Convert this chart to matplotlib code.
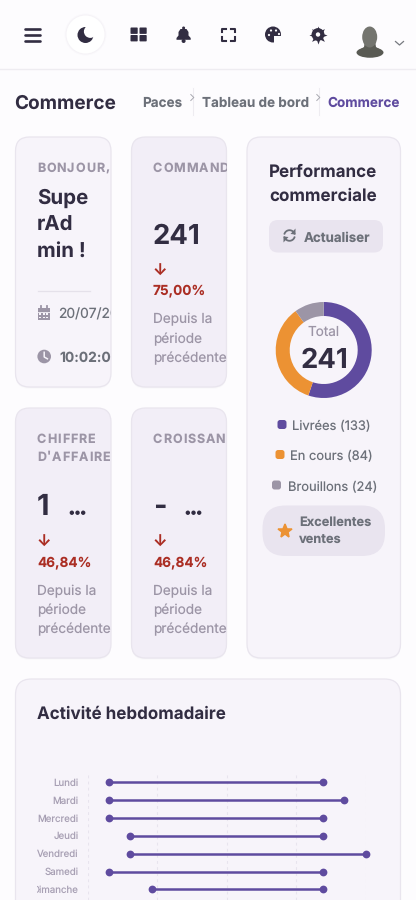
import numpy as np
import matplotlib
matplotlib.use('Agg')
import matplotlib.pyplot as plt
import matplotlib.patheffects as pe
from matplotlib.patches import FancyBboxPatch, Circle, Rectangle, Polygon, Ellipse
from matplotlib.lines import Line2D
from matplotlib.transforms import Bbox

# ---------- data ----------
status_labels = ['Livrées (133)', 'En cours (84)', 'Brouillons (24)']
status_values = [133, 84, 24]
days = ['Lundi', 'Mardi', 'Mercredi', 'Jeudi', 'Vendredi', 'Samedi', 'Dimanche']
day_start = [1, 1, 1, 2, 2, 1, 3]
day_end = [11, 12, 11, 11, 13, 11, 11]
grid_ticks = [0, 3.25, 6.5, 9.75, 13]

INK = '#322d42'
PURPLE = '#5f4b9f'
ORANGE = '#ec9233'
GREY = '#9c95a6'
TXT = '#6c7079'
RED = '#ab2e24'
BG = '#fdfcfe'
CARD1 = '#f7f4fa'
CARD2 = '#f2eef7'
EDGE = '#e9e5ee'
PILL = '#e9e4ef'

plt.rcParams['font.family'] = ['Inter', 'DejaVu Sans']
plt.rcParams['text.hinting'] = 'none'
W, H = 416, 900
fig = plt.figure(figsize=(W / 100, H / 100), dpi=100, facecolor=BG)
ax = fig.add_axes([0, 0, 1, 1])
ax.set_xlim(0, W)
ax.set_ylim(H, 0)
ax.axis('off')


def px(s):
    return s * 0.72


def clipbox(x0, x1):
    return Bbox([[x0, 0], [x1, H]])


def card(x0, y0, x1, y1, fc, r=14, z=1):
    for d, a in ((2, .025), (1, .04)):
        ax.add_patch(FancyBboxPatch((x0 + r, y0 + r + d), x1 - x0 - 2 * r, y1 - y0 - 2 * r,
                                    boxstyle=f'round,pad={r},rounding_size={r}', fc='#8a80a0',
                                    ec='none', alpha=a, zorder=z - .5))
    ax.add_patch(FancyBboxPatch((x0 + r, y0 + r), x1 - x0 - 2 * r, y1 - y0 - 2 * r,
                                boxstyle=f'round,pad={r},rounding_size={r}', fc=fc, ec=EDGE, lw=.9, zorder=z))
    return x1


def T(x, y, s, size, color=INK, weight='normal', ha='left', clip=None, va='center_baseline'):
    t = ax.text(x, y, s, fontsize=px(size), color=color, fontweight=weight, ha=ha, va=va, zorder=5)
    if clip is not None:
        t.set_clip_box(clipbox(0, clip))
        t.set_clip_on(True)
    return t


def spaced(x, y, s, size, color, clip, gap):
    """Letter-spaced capitals (CSS letter-spacing)."""
    r = fig.canvas.get_renderer()
    cx = x
    w2 = ax.text(0, 0, 'H', fontsize=px(size), fontweight='bold')
    base = w2.get_window_extent(r).width
    w2.remove()
    for ch in s:
        T(cx, y, ch, size, color, 'bold', clip=clip)
        m = ax.text(0, 0, ch + 'H', fontsize=px(size), fontweight='bold')
        cx += (m.get_window_extent(r).width - base) + gap
        m.remove()


# ---------- header ----------
ax.add_line(Line2D([0, W], [68.5, 68.5], color='#eeecf1', lw=1, zorder=1))
for y in (28.5, 34.5, 40.5):
    ax.add_line(Line2D([25, 39.5], [y, y], color=INK, lw=1.9, solid_capstyle='round'))
for d, a in ((2, .02), (1, .03)):
    ax.add_patch(Circle((85.5, 34.5), 19 + d, fc='#6a6080', ec='none', alpha=a, zorder=1))
ax.add_patch(Circle((85.5, 34.5), 19, fc='white', ec='none', zorder=1.2))
ax.add_patch(Circle((85.5, 35), 8, fc=INK, ec='none', zorder=2))
ax.add_patch(Circle((90.3, 31.5), 6.4, fc='white', ec='none', zorder=2.1))
for x0, y0 in ((130.5, 27.5), (139.5, 27.5), (130.5, 35), (139.5, 35)):
    ax.add_patch(FancyBboxPatch((x0, y0), 7.2, 6.4, boxstyle='round,pad=0,rounding_size=.8', fc=INK, ec='none'))
ax.add_patch(Polygon([(176.5, 38), (178.5, 35.5), (178.5, 32), (180.5, 29), (186.5, 29), (188.5, 32), (188.5, 35.5), (190.7, 38), (190.7, 39.8), (176.5, 39.8)], fc=INK, ec='none'))
ax.add_patch(Circle((183.6, 28), 1.5, fc=INK, ec='none'))
ax.add_patch(Circle((183.6, 41), 2, fc=INK, ec='none'))
for xs, ys in (([222, 222, 226], [32, 28.5, 28.5]), ([231, 235, 235], [28.5, 28.5, 32]),
               ([222, 222, 226], [37, 40.5, 40.5]), ([231, 235, 235], [40.5, 40.5, 37])):
    ax.add_line(Line2D(xs, ys, color=INK, lw=1.5))
ax.add_patch(Circle((273, 34.5), 8, fc=INK, ec='none'))
ax.add_patch(Polygon([(274, 36), (282, 36), (282, 44), (274, 44)], fc=BG, ec='none', zorder=2))
for c in ((269, 35), (271, 30.5), (276, 30.5), (279, 34)):
    ax.add_patch(Circle(c, 1.1, fc=BG, ec='none', zorder=3))
ax.add_patch(Circle((318, 34.5), 6.4, fc=INK, ec='none'))
ax.add_line(Line2D([318], [34.5], marker=(8, 1, 0), ms=13, color=INK, mew=0))
ax.add_patch(Circle((318, 34.5), 2.2, fc=BG, ec='none', zorder=3))
ax.add_patch(Ellipse((370, 52.5), 27, 10.5, fc='#595a53', ec='none'))
ax.add_patch(Polygon([(365, 41), (375, 41), (376, 47), (381, 50), (359, 50), (364, 47)], fc='#5c5d56', ec='none'))
ax.add_patch(Ellipse((369.7, 37), 15, 21, fc='#74756f', ec='none'))
ax.add_line(Line2D([395.5, 399.5, 403.5], [41.5, 45, 41.5], color='#777a80', lw=.9))

# ---------- breadcrumb ----------
T(14.5, 101.5, 'Commerce', 19, INK, 'bold')
T(142.5, 102, 'Paces', 13.5, TXT, 'bold')
T(201.5, 102, 'Tableau de bord', 13.5, TXT, 'bold')
T(327.5, 102, 'Commerce', 13.5, PURPLE, 'bold')
for x in (192.5, 318.5):
    ax.add_line(Line2D([x, x], [88, 115], color='#eeecf1', lw=.8))
    ax.add_line(Line2D([x - 1.7, x + 1.3, x - 1.7], [94.5, 97.5, 100.5], color='#a8a8b0', lw=.7))

# ---------- stat cards ----------
c1 = card(15.5, 137, 111, 387, CARD1)
c2 = card(131.5, 137, 226.5, 387, CARD2)
c3 = card(15.5, 408, 111, 658, CARD2)
c4 = card(131.5, 408, 226.5, 658, CARD2)

spaced(37, 167, 'BONJOUR,', 12.5, GREY, c1, .9)
for y, s in ((196, 'Supe'), (223, 'rAd'), (249.5, 'min !')):
    T(37, y, s, 20.5, INK, 'bold', clip=c1)
ax.add_line(Line2D([37.5, 89.5], [290.5, 290.5], color='#e5e1ea', lw=.9, zorder=5))
ax.add_patch(Rectangle((37.8, 308), 11.7, 11.5, fc=GREY, ec='none', zorder=5))
for x in (40.5, 46.8):
    ax.add_line(Line2D([x, x], [306, 309], color=GREY, lw=1.3, zorder=5))
ax.add_line(Line2D([37.8, 49.5], [311.5, 311.5], color=CARD1, lw=.6, zorder=6))
for x in (40, 43.6, 47.2):
    for y in (314, 317.2):
        ax.add_patch(Rectangle((x - .8, y - .7), 1.7, 1.5, fc=CARD1, ec='none', zorder=6))
T(58, 313.5, '20/07/2026', 13.8, TXT, clip=c1)
ax.add_patch(Circle((44.2, 356.5), 6.8, fc=GREY, ec='none', zorder=5))
ax.add_line(Line2D([44.2, 44.2, 47.4], [352.3, 357, 358.8], color=CARD1, lw=1.1, zorder=6))
T(59.5, 356.5, '10:02:05', 13.8, TXT, 'bold', clip=c1)

spaced(153, 167, 'COMMANDES', 12.5, GREY, c2, .9)
T(153, 233.5, '241', 27.5, INK, 'bold', clip=c2)
T(152.5, 270, '↓', 16, RED, 'bold', clip=c2)
T(153, 289, '75,00%', 13.6, RED, 'bold', clip=c2)
for y, s in ((318.5, 'Depuis la'), (337.5, 'période'), (356.5, 'précédente')):
    T(153, y, s, 13.6, GREY, clip=c2)

spaced(37, 438, 'CHIFFRE', 12.5, GREY, c3, .9)
spaced(37, 456, "D'AFFAIRES", 12.5, GREY, c3, .9)
spaced(153, 438, 'CROISSANCE', 12.5, GREY, c4, .9)
T(37, 504, '1', 29, INK, 'bold', clip=c3)
T(153, 504, '-', 29, INK, 'bold', clip=c4)
for x, c in ((69, c3), (185, c4)):
    t = T(x, 514, '...', 17, INK, 'bold', clip=c, va='baseline')
    t.set_path_effects([pe.withStroke(linewidth=1.1, foreground=INK)])
for x, c in ((37, c3), (153, c4)):
    T(x - .5, 541, '↓', 16, RED, 'bold', clip=c)
    T(x, 561, '46,84%', 13.6, RED, 'bold', clip=c)
    for y, s in ((589.5, 'Depuis la'), (608.5, 'période'), (627.5, 'précédente')):
        T(x, y, s, 13.6, GREY, clip=c)

# ---------- performance card ----------
card(247, 137, 400.5, 658, CARD1)
T(323.5, 171, 'Performance', 17, INK, 'bold', ha='center')
T(323.5, 194.5, 'commerciale', 17, INK, 'bold', ha='center')
ax.add_patch(FancyBboxPatch((269, 220), 114, 32.5, boxstyle='round,pad=0,rounding_size=9', fc=PILL, ec='none', zorder=2))
T(303.5, 236.5, 'Actualiser', 13.3, TXT, 'bold')
for a0, a1 in ((200, 340), (20, 160)):
    th = np.radians(np.linspace(a0, a1, 20))
    ax.add_line(Line2D(289.5 + 5.3 * np.cos(th), 235.5 + 5.3 * np.sin(th), color=TXT, lw=1.3, zorder=4))
ax.add_patch(Polygon([(295.5, 228.5), (295.5, 234.5), (290.5, 234)], fc=TXT, ec='none', zorder=4))
ax.add_patch(Polygon([(283.5, 242.5), (283.5, 236.5), (288.5, 237)], fc=TXT, ec='none', zorder=4))

ax_d = fig.add_axes([(323.7 - 49) / W, 1 - (350 + 49) / H, 98 / W, 98 / H])
ax_d.pie(status_values, colors=[PURPLE, ORANGE, GREY], startangle=90, counterclock=False,
         radius=1, wedgeprops=dict(width=14 / 48, lw=0))
ax_d.set_xlim(-49 / 48, 49 / 48)
ax_d.set_ylim(-49 / 48, 49 / 48)
T(324, 330.5, 'Total', 13.5, GREY, ha='center')
T(324, 358, '241', 27.5, INK, 'bold', ha='center')

legend_x = [(282, 293), (280, 291), (276.5, 288)]
legend_y = [424.5, 454.5, 485]
for (mx, tx), y, s, col in zip(legend_x, legend_y, status_labels, [PURPLE, ORANGE, GREY]):
    ax.add_patch(FancyBboxPatch((mx - 4.5, y - 4.5), 9, 9, boxstyle='round,pad=0,rounding_size=2.6', fc=col, ec='none', zorder=3))
    T(tx - .5, y, s, 12.9, TXT)

ax.add_patch(FancyBboxPatch((262.5, 505.5), 122.5, 50.5, boxstyle='round,pad=0,rounding_size=23', fc=PILL, ec='none', zorder=2))
ax.add_line(Line2D([284.5], [531], marker='*', ms=10.5, color=ORANGE, mec=ORANGE, mew=1.1, mfc=ORANGE, zorder=4))
T(299, 521, 'Excellentes', 12.8, TXT, 'bold')
T(299, 539, 'ventes', 12.8, TXT, 'bold')

# ---------- weekly activity ----------
card(15.5, 679, 400.5, 930, CARD1, r=16)
T(37, 712.5, 'Activité hebdomadaire', 17, INK, 'bold')

row_h = 17.9
ax_w = fig.add_axes([87.6 / W, 0, 278.1 / W, (900 - 773) / H])
ax_w.patch.set_alpha(0)
ax_w.set_xlim(0, 13)
ax_w.set_ylim((900 - 782) / row_h, -(782 - 773) / row_h)
for s in ax_w.spines.values():
    s.set_visible(False)
ax_w.set_xticks(grid_ticks)
ax_w.set_xticklabels([])
ax_w.set_yticks(range(len(days)))
ax_w.set_yticklabels(days, fontsize=px(9.7), color='#a8a0b4')
ax_w.tick_params(length=0, pad=6.5)
ax_w.grid(axis='x', color='#e8e4ee', lw=.8, ls=(0, (2.5, 3)))
ax_w.set_axisbelow(True)
for lab in ax_w.get_yticklabels():
    lab.set_clip_box(clipbox(37, 100))
    lab.set_clip_on(True)
for i, (a, b) in enumerate(zip(day_start, day_end)):
    ax_w.plot([a, b], [i, i], color=PURPLE, lw=1.8, clip_on=False, solid_capstyle='butt',
              marker='o', ms=5.6, mew=0, zorder=3)

fig.savefig('out.png', dpi=100, facecolor=BG)
